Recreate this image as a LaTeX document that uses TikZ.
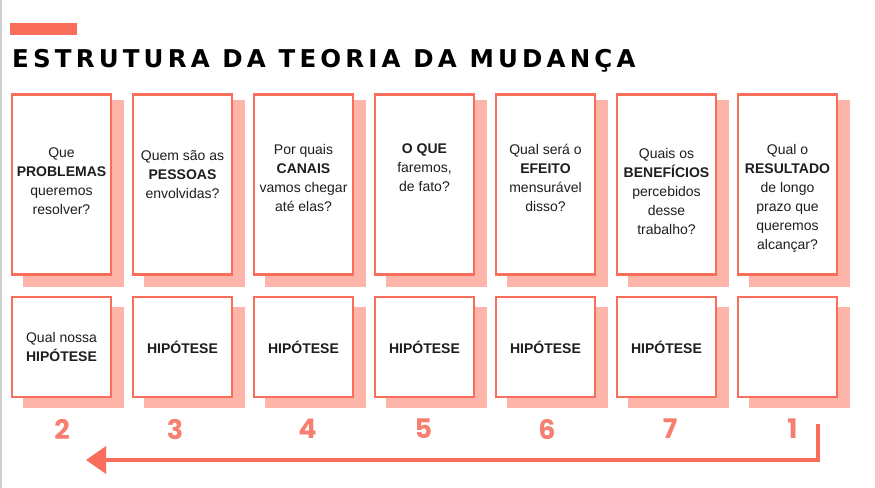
\documentclass[tikz,border=0pt]{standalone}
\usepackage{fontspec}
\usepackage{xcolor}
\usepackage{tikz}
\usetikzlibrary{positioning, arrows.meta, calc}
\setmainfont{Liberation Sans}
\newfontfamily\titlefont[LetterSpace=17]{DejaVu Sans}
\newfontfamily\numfont{Poppins}
\definecolor{tcCoral}{HTML}{F96E5B}
\definecolor{tcNum}{HTML}{F6806F}
\definecolor{tcShadow}{HTML}{FCB5A8}
\definecolor{tcGray}{HTML}{CFCFCF}
\definecolor{tcInk}{HTML}{1E1E1E}
\tikzset{
  cardbox/.style={draw=tcCoral, line width=2.6bp, fill=white, inner sep=0pt},
  qcard/.style={cardbox, minimum width=99bp, minimum height=180bp},
  hcard/.style={cardbox, minimum width=99bp, minimum height=100bp, font=\fontsize{14bp}{19bp}\selectfont,
    text=tcInk, align=center},
  qshadow/.style={fill=tcShadow, inner sep=0pt, minimum width=101bp, minimum height=186bp},
  hshadow/.style={fill=tcShadow, inner sep=0pt, minimum width=101bp, minimum height=101bp},
  qtext/.style={font=\fontsize{14bp}{19bp}\selectfont, text=tcInk, align=center, inner sep=0pt, anchor=north},
  stepnum/.style={font=\numfont\bfseries\fontsize{27bp}{27bp}\selectfont, text=tcNum, inner sep=0pt}
}
\begin{document}
\begin{tikzpicture}[x=1bp, y=-1bp]
  \useasboundingbox (0,0) rectangle (875,488);
  \fill[white] (0,0) rectangle (875,488);
  \draw[tcGray, line width=2bp] (1,0) -- (1,488);
  % title
  \node[fill=tcCoral, inner sep=0pt, minimum width=67bp, minimum height=12bp, anchor=north west] (bar) at (10,23) {};
  \node[anchor=base west, inner sep=0pt, font=\titlefont\bfseries\fontsize{24.5bp}{25bp}\selectfont, text=black] (title) at (12,68)
    {ESTRUTURA DA TEORIA DA MUDANÇA};
  % columns
  \foreach \qtxt/\htxt/\num/\ty/\dx [count=\i from 0] in {
      {Que\\\textbf{PROBLEMAS}\\queremos\\resolver?}/{Qual nossa\\\textbf{HIPÓTESE}}/2/148/0.5,
      {Quem são as\\\textbf{PESSOAS}\\envolvidas?}/{\textbf{HIPÓTESE}}/3/150/-7.5,
      {Por quais\\\textbf{CANAIS}\\vamos chegar\\até elas?}/{\textbf{HIPÓTESE}}/4/144/4,
      {\textbf{O QUE}\\faremos,\\de fato?}/{\textbf{HIPÓTESE}}/5/144/-1,
      {Qual será o\\\textbf{EFEITO}\\mensurável\\disso?}/{\textbf{HIPÓTESE}}/6/144/1.5,
      {Quais os\\\textbf{BENEFÍCIOS}\\percebidos\\desse\\trabalho?}/{\textbf{HIPÓTESE}}/7/148/3.5,
      {Qual o\\\textbf{RESULTADO}\\de longo\\prazo que\\queremos\\alcançar?}/{}/1/144/5}{
    \pgfmathsetmacro\cx{61.5+121*\i}
    \node[qshadow] (qs\i) at (\cx+12,193.5) {};
    \node[qcard] (q\i) at (\cx,184.5) {};
    \node[qtext] (qt\i) at (\cx,\ty) {\qtxt};
    \node[hshadow] (hs\i) at (\cx+12,357.5) {};
    \node[hcard] (h\i) at (\cx,347) {\htxt};
    \node[stepnum] (n\i) at (\cx+\dx,429) {\num};
  }
  % arrow back to the start
  \coordinate (arrtop) at (818,424);
  \coordinate (arrbend) at (818,460);
  \coordinate (arrtip) at (86,460);
  \draw[tcCoral, line width=3.5bp, -{Triangle[length=20bp, width=27bp]}] (arrtop) -- (arrbend) -- (arrtip);
\end{tikzpicture}
\end{document}
